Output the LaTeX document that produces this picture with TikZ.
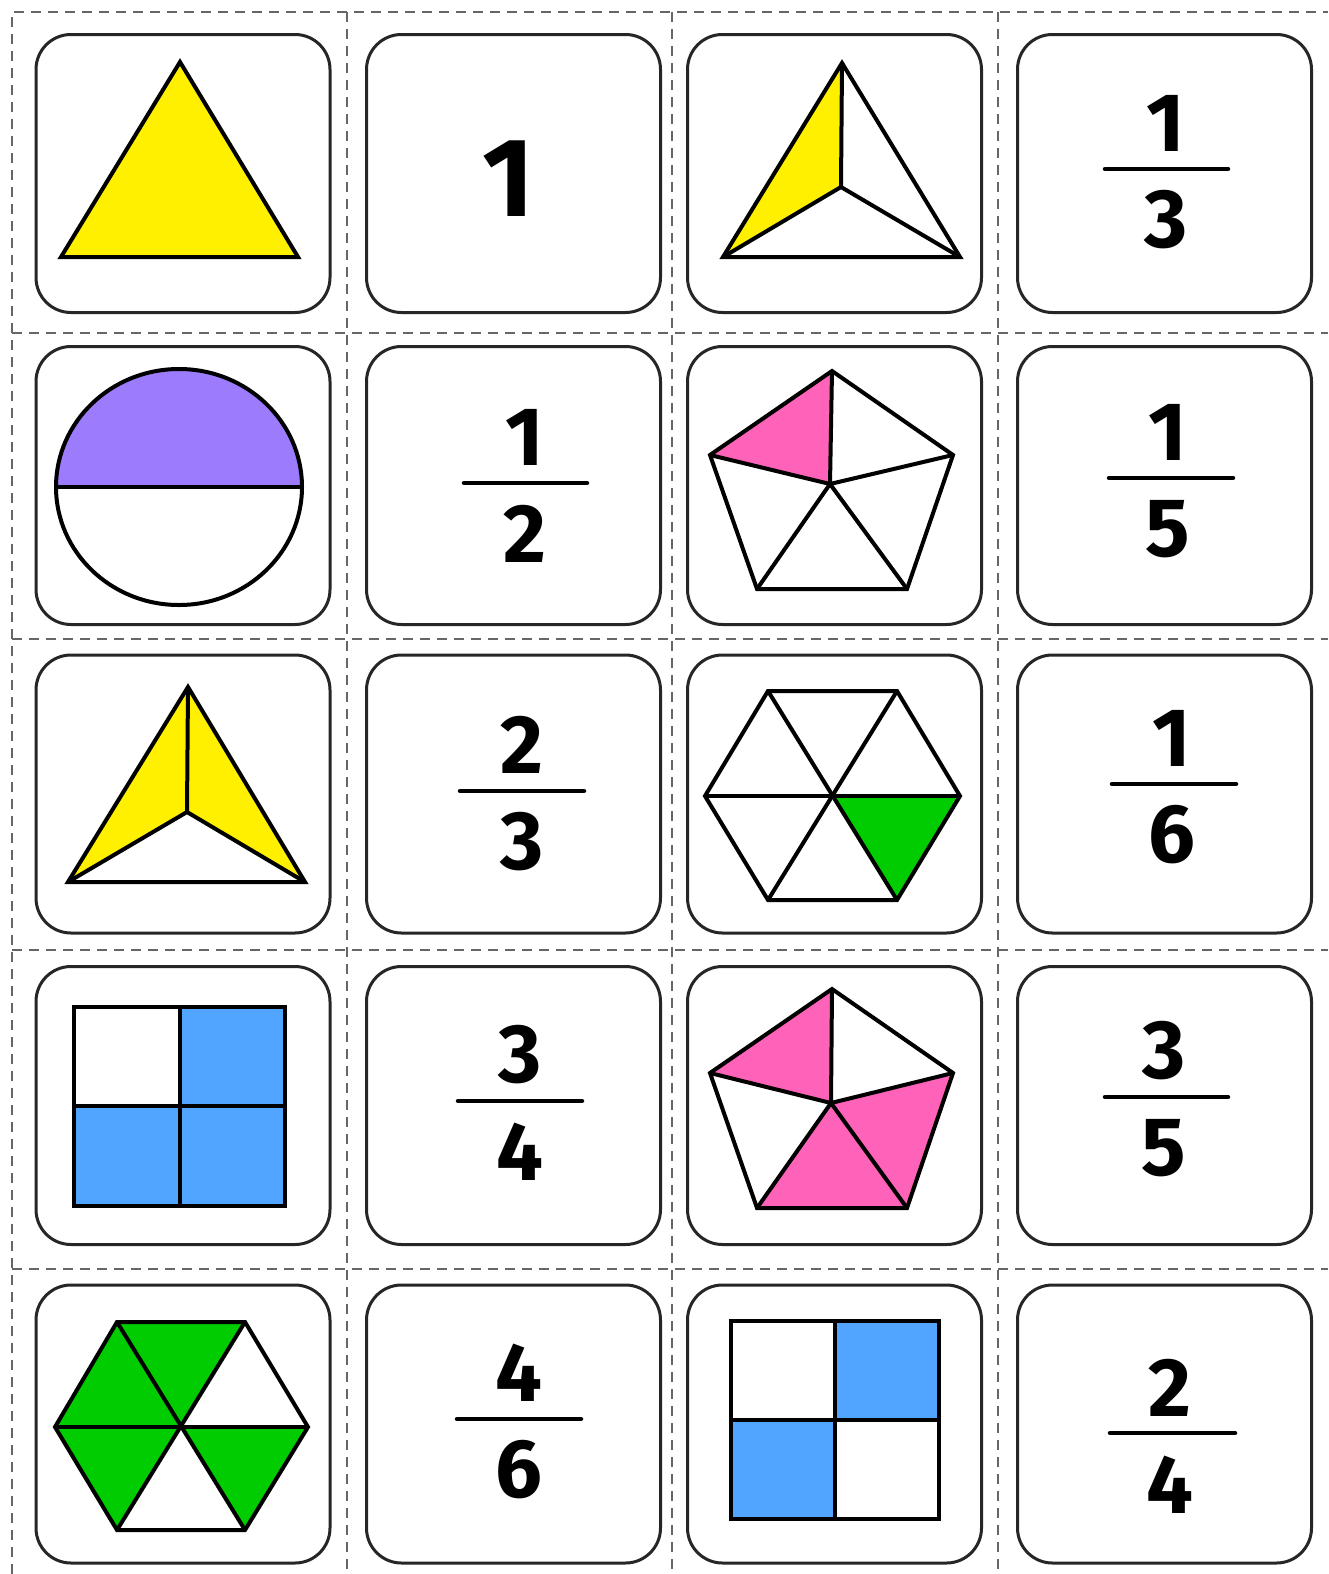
\documentclass[tikz,border=0pt]{standalone}
\usepackage{fontspec}
\setmainfont{Fira Sans}
\definecolor{yel}{HTML}{FFF000}
\definecolor{purp}{HTML}{9D7BFD}
\definecolor{pnk}{HTML}{FF63B9}
\definecolor{grn}{HTML}{00CC00}
\definecolor{blu}{HTML}{52A5FF}
\tikzset{
 card/.style={draw=black!85, line width=3pt, rounded corners=35pt, minimum width=294pt, minimum height=278pt, inner sep=0pt},
 cut/.style={draw=black!60, line width=2pt, dash pattern=on 10pt off 7pt},
 shp/.style={draw=black, line width=4pt},
 fbar/.style={draw=black, line width=4.5pt, line cap=round},
 dig/.style={inner sep=0pt, font=\fontsize{83}{83}\selectfont\bfseries},
 bigdig/.style={inner sep=0pt, font=\fontsize{112}{112}\selectfont\bfseries},
}
\begin{document}
\begin{tikzpicture}[x=1pt,y=-1pt]
\useasboundingbox (0,0) rectangle (1328,1574);
\fill[white] (0,0) rectangle (1328,1574);
% cut lines
\draw[cut] (12,1574) -- (12,12) -- (1328,12);
\foreach \xx in {347,672,998} \draw[cut] (\xx,12) -- (\xx,1574);
\foreach \yy in {333,639,950,1269} \draw[cut] (12,\yy) -- (1328,\yy);
% cards
\foreach \cx/\cc in {183/1,513.5/2,834.5/3,1164.5/4}{
  \foreach \cy/\rr in {173.5/1,485.5/2,794/3,1105.5/4,1424/5}{
    \node[card] (card\rr\cc) at (\cx,\cy) {};
  }
}
% row 1 col 1: whole triangle
\filldraw[shp, fill=yel] (180,62) -- (61,257) -- (298,257) -- cycle;
% row 1 col 2
\node[bigdig] (one) at (508,179) {1};
% row 1 col 3: one third triangle
\fill[yel] (842,63) -- (841,187) -- (723,257) -- cycle;
\draw[shp] (842,63) -- (723,257) -- (960,257) -- cycle;
\draw[shp] (842,63) -- (841,187) -- (723,257);
\draw[shp] (841,187) -- (960,257);
% row 1 col 4: 1/3
\node[dig] (n14) at (1166,123) {1};
\draw[fbar] (1105,169) -- (1228,169);
\node[dig] (d14) at (1166,220) {3};
% row 2 col 1: half circle
\begin{scope}
\clip (40,350) rectangle (320,487);
\fill[purp] (179,487) ellipse [x radius=123, y radius=118];
\end{scope}
\draw[shp] (179,487) ellipse [x radius=123, y radius=118];
\draw[shp] (56,487) -- (302,487);
% row 2 col 2: 1/2
\node[dig] (n22) at (525,437) {1};
\draw[fbar] (464,483) -- (587,483);
\node[dig] (d22) at (525,534) {2};
% row 2 col 3: pentagon 1/5
\fill[pnk] (832,371) -- (830,484) -- (710,455) -- cycle;
\draw[shp] (832,371) -- (953,455) -- (907,589) -- (757,589) -- (710,455) -- cycle;
\foreach \p in {(832,371),(953,455),(907,589),(757,589),(710,455)} \draw[shp] (830,484) -- \p;
% row 2 col 4: 1/5
\node[dig] (n24) at (1168,432) {1};
\draw[fbar] (1109,478) -- (1233,478);
\node[dig] (d24) at (1168,529) {5};
% row 3 col 1: two thirds triangle
\fill[yel] (188,687) -- (305,882) -- (187,812) -- (68,882) -- cycle;
\draw[shp] (188,687) -- (68,882) -- (305,882) -- cycle;
\draw[shp] (188,687) -- (187,812) -- (68,882);
\draw[shp] (187,812) -- (305,882);
% row 3 col 2: 2/3
\node[dig] (n32) at (522,745) {2};
\draw[fbar] (460,791) -- (584,791);
\node[dig] (d32) at (522,842) {3};
% row 3 col 3: hexagon 1/6
\fill[grn] (832,796) -- (960,796) -- (897,900) -- cycle;
\draw[shp] (768,691) -- (897,691) -- (960,796) -- (897,900) -- (768,900) -- (705,796) -- cycle;
\draw[shp] (768,691) -- (897,900);
\draw[shp] (897,691) -- (768,900);
\draw[shp] (705,796) -- (960,796);
% row 3 col 4: 1/6
\node[dig] (n34) at (1172,738) {1};
\draw[fbar] (1112,784) -- (1236,784);
\node[dig] (d34) at (1172,835) {6};
% row 4 col 1: square 3/4
\fill[blu] (180,1007) rectangle (285,1106);
\fill[blu] (74,1106) rectangle (285,1206);
\draw[shp] (74,1007) rectangle (285,1206);
\draw[shp] (180,1007) -- (180,1206);
\draw[shp] (74,1106) -- (285,1106);
% row 4 col 2: 3/4
\node[dig] (n42) at (520,1055) {3};
\draw[fbar] (458,1101) -- (582,1101);
\node[dig] (d42) at (520,1152) {4};
% row 4 col 3: pentagon 3/5
\fill[pnk] (832,989) -- (831,1103) -- (710,1073) -- cycle;
\fill[pnk] (831,1103) -- (953,1073) -- (907,1208) -- (757,1208) -- cycle;
\draw[shp] (832,989) -- (953,1073) -- (907,1208) -- (757,1208) -- (710,1073) -- cycle;
\foreach \p in {(832,989),(953,1073),(907,1208),(757,1208),(710,1073)} \draw[shp] (831,1103) -- \p;
% row 4 col 4: 3/5
\node[dig] (n44) at (1164,1051) {3};
\draw[fbar] (1105,1097) -- (1228,1097);
\node[dig] (d44) at (1164,1148) {5};
% row 5 col 1: hexagon 4/6
\fill[grn] (55,1427) -- (117,1322) -- (245,1322) -- (180,1427) -- (117,1530) -- cycle;
\fill[grn] (180,1427) -- (308,1427) -- (245,1530) -- cycle;
\draw[shp] (117,1322) -- (245,1322) -- (308,1427) -- (245,1530) -- (117,1530) -- (55,1427) -- cycle;
\draw[shp] (117,1322) -- (245,1530);
\draw[shp] (245,1322) -- (117,1530);
\draw[shp] (55,1427) -- (308,1427);
% row 5 col 2: 4/6
\node[dig] (n52) at (519,1373) {4};
\draw[fbar] (457,1419) -- (581,1419);
\node[dig] (d52) at (519,1470) {6};
% row 5 col 3: square 2/4
\fill[blu] (835,1321) rectangle (939,1420);
\fill[blu] (731,1420) rectangle (835,1519);
\draw[shp] (731,1321) rectangle (939,1519);
\draw[shp] (835,1321) -- (835,1519);
\draw[shp] (731,1420) -- (939,1420);
% row 5 col 4: 2/4
\node[dig] (n54) at (1170,1388) {2};
\draw[fbar] (1110,1433) -- (1235,1433);
\node[dig] (d54) at (1170,1485) {4};
\end{tikzpicture}
\end{document}
